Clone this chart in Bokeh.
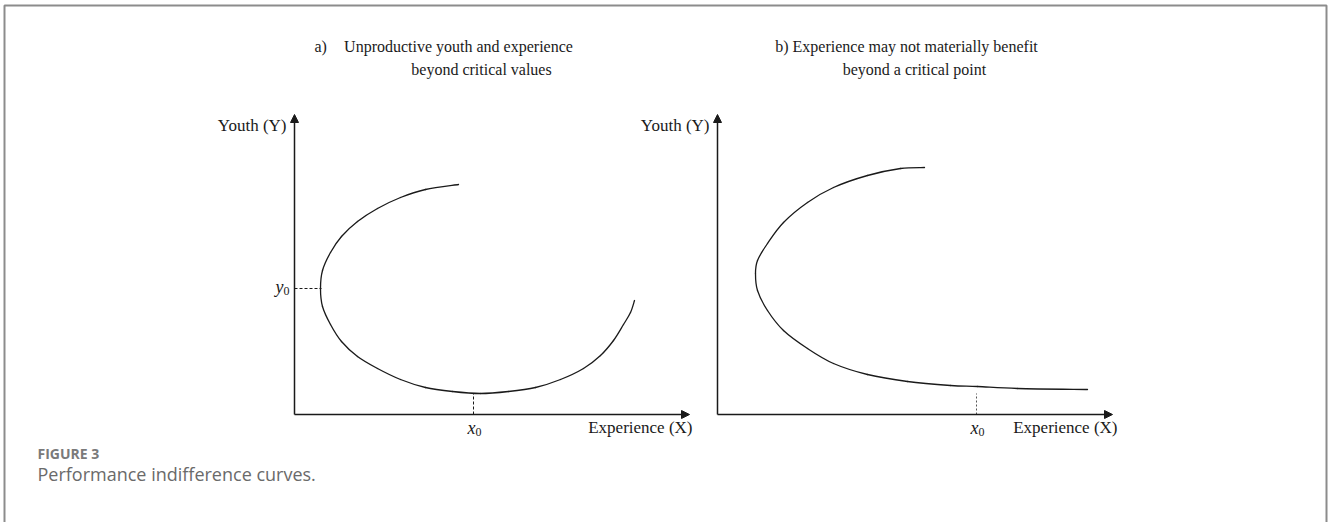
from bokeh.plotting import figure
from bokeh.models import Range1d, Arrow, NormalHead
from bokeh.core.properties import value
from bokeh.embed import file_html
from bokeh.resources import INLINE

# ---- curve data (axis units: x axis runs 0..395, y axis 0..300) ----
# a) unproductive youth and experience beyond critical values
curve_a_x = [164, 131, 106, 83, 63, 47, 36, 28, 26, 28, 36, 47, 63, 83, 106, 131, 158,
             186, 214, 241, 266, 289, 306, 319, 329, 336, 340]
curve_a_y = [230, 225, 217, 206, 193, 178, 162, 144, 126, 108, 90, 73, 58, 46, 35, 27, 23,
             21, 23, 27, 35, 46, 59, 74, 90, 102, 114]
# b) experience may not materially benefit beyond a critical point
curve_b_x = [207, 183, 150, 116, 90, 66, 50, 40, 38, 40, 50, 66, 90, 116, 150, 190, 233,
             260, 300, 370]
curve_b_y = [247, 246, 239, 227, 212, 192, 171, 154, 141, 124, 104, 84, 66, 51, 40, 33, 29,
             28, 26, 25]

# critical values marked on the axes
crit_a_x, crit_a_y = 179, 126
crit_a_curve_y = 21       # curve height above x0
crit_a_curve_x = 27       # curve position at y0
crit_b_x = 259
crit_b_top = 21

titles_a = ["a)", "Unproductive youth and experience", "beyond critical values"]
titles_b = ["b) Experience may not materially benefit", "beyond a critical point"]
y_label = "Youth (Y)"
x_label = "Experience (X)"
caption_head = "FIGURE 3"
caption_text = "Performance indifference curves."

# ---- page layout ----
W, H = 1328, 522
X_LEN, Y_LEN = 395, 300
ORIGIN_Y = 414                 # page row of both x-axes
PANELS = {"a": 294, "b": 717}  # page column of each y-axis

SERIF = value("Liberation Serif")
SANS = value("Open Sans")
INK = "#1a1a1a"

p = figure(width=W, height=H, x_range=Range1d(0, W), y_range=Range1d(H, 0),
           output_backend="svg", toolbar_location=None, min_border=0)
p.axis.visible = False
p.grid.visible = False
p.outline_line_color = None
p.background_fill_color = "white"
p.border_fill_color = "white"

# outer frame
p.line([4, 4, 1326, 1326], [H, 5, 5, H], line_color="#8c8c8c", line_width=2)

# per-panel data ranges laid over the page (1 axis unit = 1 px)
for key, ox in PANELS.items():
    p.extra_x_ranges["x" + key] = Range1d(-ox, W - ox)
    p.extra_y_ranges["y" + key] = Range1d(-(H - ORIGIN_Y), ORIGIN_Y)


def smooth_curve(xs, ys, kw):
    # Catmull-Rom path through the points, drawn as cubic Bezier segments
    n = len(xs)
    px = [xs[0]] + list(xs) + [xs[-1]]
    py = [ys[0]] + list(ys) + [ys[-1]]
    x0, y0, x1, y1, cx0, cy0, cx1, cy1 = ([] for _ in range(8))
    for i in range(1, n):
        a, b, c, d = i - 1, i, i + 1, i + 2
        x0.append(px[b]); y0.append(py[b])
        x1.append(px[c]); y1.append(py[c])
        cx0.append(px[b] + (px[c] - px[a]) / 6); cy0.append(py[b] + (py[c] - py[a]) / 6)
        cx1.append(px[c] - (px[d] - px[b]) / 6); cy1.append(py[c] - (py[d] - py[b]) / 6)
    p.bezier(x0=x0, y0=y0, x1=x1, y1=y1, cx0=cx0, cy0=cy0, cx1=cx1, cy1=cy1,
             line_color=INK, line_width=1.3, line_cap="round", **kw)


def axes(key):
    kw = dict(x_range_name="x" + key, y_range_name="y" + key)
    for xe, ye in [(X_LEN, 0), (0, Y_LEN)]:
        p.add_layout(Arrow(end=NormalHead(size=8, fill_color=INK, line_color=INK, line_width=1),
                           x_start=0, y_start=0, x_end=xe, y_end=ye,
                           line_color=INK, line_width=1.5, **kw))
    p.text(x=[0], y=[Y_LEN - 11], text=[y_label], text_align="right", text_baseline="middle",
           x_offset=-8, text_font=SERIF, text_font_size="17px", text_color=INK, **kw)
    return kw


def sub_label(x, y, letter, kw, anchor):
    # italic letter with an upright subscript zero
    if anchor == "below":
        p.text(x=[x], y=[y], text=[letter], text_align="right", text_baseline="middle",
               x_offset=2, text_font=SERIF, text_font_style="italic", text_font_size="18px",
               text_color=INK, **kw)
        p.text(x=[x], y=[y], text=["0"], text_align="left", text_baseline="middle",
               x_offset=2, y_offset=4, text_font=SERIF, text_font_size="12px",
               text_color=INK, **kw)
    else:
        p.text(x=[x], y=[y], text=[letter], text_align="right", text_baseline="middle",
               x_offset=-11, y_offset=-2, text_font=SERIF, text_font_style="italic",
               text_font_size="18px", text_color=INK, **kw)
        p.text(x=[x], y=[y], text=["0"], text_align="left", text_baseline="middle",
               x_offset=-11, y_offset=2, text_font=SERIF, text_font_size="12px",
               text_color=INK, **kw)


LABEL_Y = -13

# panel a
kw = axes("a")
smooth_curve(curve_a_x, curve_a_y, kw)
p.line([0, crit_a_curve_x], [crit_a_y, crit_a_y], line_color=INK, line_width=1,
       line_dash="3 2", **kw)
p.line([crit_a_x, crit_a_x], [0, crit_a_curve_y], line_color=INK, line_width=1,
       line_dash="3 2", **kw)
sub_label(crit_a_x, LABEL_Y, "x", kw, "below")
sub_label(0, crit_a_y, "y", kw, "left")
p.text(x=[X_LEN], y=[LABEL_Y], text=[x_label], text_align="right", text_baseline="middle",
       x_offset=3, text_font=SERIF, text_font_size="17px", text_color=INK, **kw)

# panel b
kw = axes("b")
smooth_curve(curve_b_x, curve_b_y, kw)
p.line([crit_b_x, crit_b_x], [0, crit_b_top], line_color="#555555", line_width=1,
       line_dash="2 2", **kw)
sub_label(crit_b_x, LABEL_Y, "x", kw, "below")
p.text(x=[X_LEN], y=[LABEL_Y], text=[x_label], text_align="right", text_baseline="middle",
       x_offset=5, text_font=SERIF, text_font_size="17px", text_color=INK, **kw)

# panel titles (page coordinates)
p.text(x=[314], y=[46], text=[titles_a[0]], text_align="left", text_baseline="middle",
       text_font=SERIF, text_font_size="16px", text_color=INK)
p.text(x=[458, 481], y=[46, 69], text=titles_a[1:], text_align="center",
       text_baseline="middle", text_font=SERIF, text_font_size="16px", text_color=INK)
p.text(x=[906, 914], y=[46, 69], text=titles_b, text_align="center",
       text_baseline="middle", text_font=SERIF, text_font_size="16px", text_color=INK)

# caption
p.text(x=[37], y=[453], text=[caption_head], text_align="left", text_baseline="middle",
       text_font=SANS, text_font_style="bold", text_font_size="14px", text_color="#7a7a7a")
p.text(x=[37], y=[473], text=[caption_text], text_align="left", text_baseline="middle",
       text_font=SANS, text_font_size="18px", text_color="#6a6a6a")

open("out.html", "w").write(file_html(p, INLINE))
